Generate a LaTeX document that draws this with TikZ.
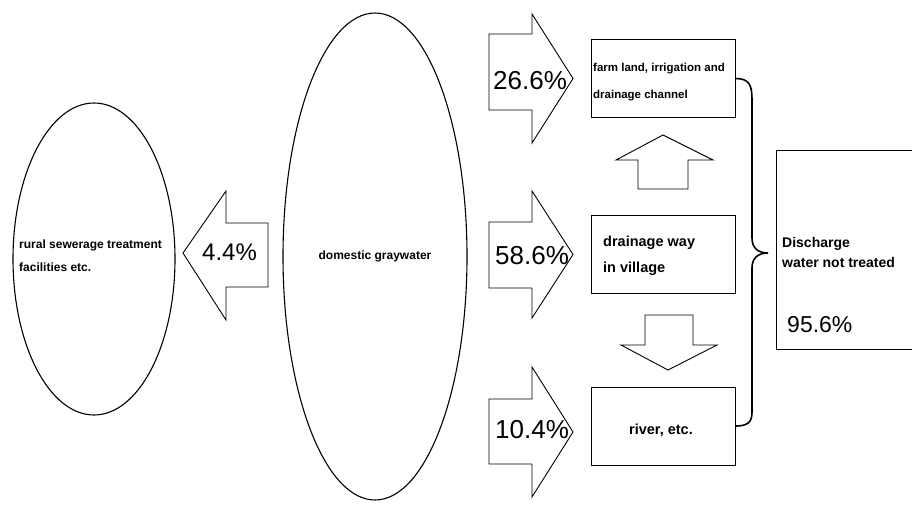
\documentclass[tikz,border=0pt]{standalone}
\usepackage{fontspec}
\setmainfont{Liberation Sans}
\usetikzlibrary{shapes.geometric}

\tikzset{
    blob/.style={ellipse, draw, line width=1.1pt, inner sep=0pt},
    plainbox/.style={rectangle, draw, line width=0.9pt, inner sep=0pt},
    blockarrow/.style={draw, line width=0.9pt, line join=miter},
    txt/.style={inner sep=0pt, anchor=base west, align=left, font=\bfseries\fontsize{12}{23}\selectfont},
    bigtxt/.style={txt, font=\bfseries\fontsize{14.5}{26}\selectfont},
    pct/.style={inner sep=0pt, anchor=base west, font=\fontsize{26}{26}\selectfont},
}

\begin{document}
\begin{tikzpicture}[x=1pt, y=-1pt]
    \useasboundingbox (0,0) rectangle (912,504);

    % ellipses
    \node[blob, minimum width=162, minimum height=312] (sewer) at (94,259) {};
    \node[blob, minimum width=184, minimum height=487] (gray) at (375,256.5) {};
    \node[txt] (sewertxt) at (19,271) {rural sewerage treatment\\facilities etc.};
    \node[txt, anchor=base] (graytxt) at (375,259) {domestic graywater};

    % boxes on the right
    \begin{scope}[every node/.style={plainbox, minimum width=144, minimum height=78}]
        \node (farm) at (663,78.5) {};
        \node (drain) at (663,254) {};
        \node (river) at (663,426) {};
    \end{scope}
    \node[plainbox, minimum width=140, minimum height=199] (discharge) at (846,249.5) {};

    \node[txt, font=\bfseries\fontsize{11.5}{27}\selectfont] (farmtxt) at (593,98) {farm land, irrigation and\\drainage channel};
    \node[bigtxt] (draintxt) at (603,272) {drainage way\\in village};
    \node[bigtxt, anchor=base] (rivertxt) at (661,434) {river, etc.};
    \node[txt, font=\bfseries\fontsize{14}{20}\selectfont] (dischtxt) at (782,267) {Discharge\\water not treated};

    % block arrows
    \draw[blockarrow] (183,253) -- (226,191) -- (226,223) -- (268,223) -- (268,287) -- (226,287) -- (226,320) -- cycle;
    \foreach \y/\t/\b/\s in {34/14/143/110, 222/191/318/288, 399/367/497/464} {
        \draw[blockarrow] (489,\y) -- (532,\y) -- (532,\t) -- (573,{(\t+\b)/2}) -- (532,\b)
            -- (532,\s) -- (489,\s) -- cycle;
    }
    \draw[blockarrow] (663,135) -- (713,160) -- (688,160) -- (688,189) -- (638,189) -- (638,160) -- (616,160) -- cycle;
    \draw[blockarrow] (668,370) -- (717,345) -- (693,345) -- (693,315) -- (645,315) -- (645,345) -- (621,345) -- cycle;

    % percentages
    \node[pct, font=\fontsize{24}{24}\selectfont] (p44) at (202,260) {4.4\%};
    \node[pct] (p266) at (493,89) {26.6\%};
    \node[pct] (p586) at (495,264) {58.6\%};
    \node[pct] (p104) at (495,438) {10.4\%};
    \node[pct, font=\fontsize{23}{23}\selectfont] (p956) at (787,332) {95.6\%};

    % brace
    \coordinate (tip) at (768,253);
    \draw[line width=1.6pt] (farm.east) .. controls (750,78.5) and (752,86) .. (752,100)
        -- (752,238) .. controls (752,248) and (758,253) .. (tip)
        .. controls (758,253) and (752,258) .. (752,268)
        -- (752,412) .. controls (752,422) and (748,426) .. (river.east);
\end{tikzpicture}
\end{document}
